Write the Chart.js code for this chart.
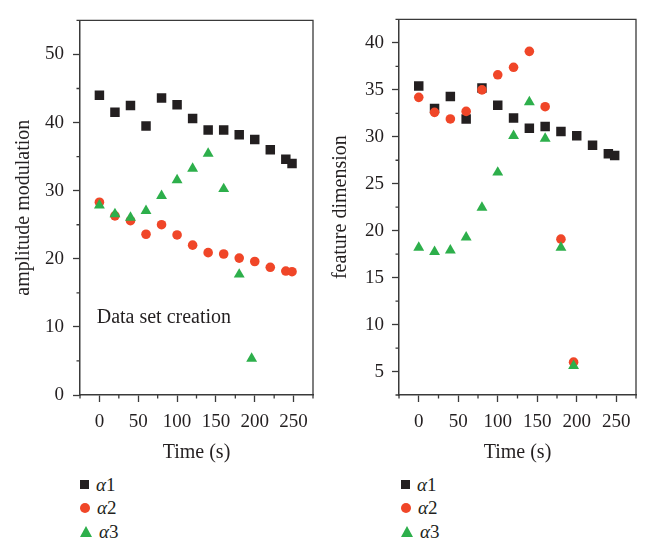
<!doctype html>
<html>
<head>
<meta charset="utf-8">
<title>Scatter</title>
<script src="https://cdn.jsdelivr.net/npm/chart.js@4"></script>
<style>
	body { margin: 0; background: #fff; color: #231f20; font-family: "Liberation Serif", "Times New Roman", serif; }
	.box { position: absolute; top: 0; height: 470px; }
	#leftBox { left: 0; width: 322px; }
	#rightBox { left: 322px; width: 323px; }
	.legend { position: absolute; top: 473px; font-size: 19px; }
	.legend div { display: flex; align-items: center; height: 23.5px; }
	.legend span.mk { display: inline-block; margin-right: 7px; }
	.mk.rect { width: 9px; height: 9px; }
	.mk.circle { width: 10px; height: 10px; border-radius: 50%; }
	.mk.triangle { width: 0; height: 0; border-left: 6px solid transparent; border-right: 6px solid transparent; border-bottom: 11px solid; background: none !important; }
</style>
</head>
<body>
	<div class="box" id="leftBox"><canvas id="leftChart"></canvas></div>
	<div class="box" id="rightBox"><canvas id="rightChart"></canvas></div>
	<div class="legend" id="leftLegend" style="left:80px"></div>
	<div class="legend" id="rightLegend" style="left:401px"></div>

<script>
	// ---- data ----
	var seriesNames = ["α1", "α2", "α3"];

	// left panel: amplitude modulation
	var timesA = [0, 20, 40, 60, 80, 100, 120, 140, 160, 180, 200, 220, 240, 248];
	var timesB = [0, 20, 40, 60, 80, 100, 120, 140, 160, 180, 196];
	var ampA1 = [44.0, 41.5, 42.5, 39.5, 43.6, 42.6, 40.6, 38.9, 38.9, 38.2, 37.5, 36.0, 34.6, 34.0];
	var ampA2 = [28.3, 26.3, 25.6, 23.6, 25.0, 23.5, 22.0, 20.9, 20.7, 20.1, 19.6, 18.75, 18.2, 18.1];
	var ampA3 = [27.85, 26.55, 26.05, 27.05, 29.25, 31.55, 33.25, 35.45, 30.25, 17.7, 5.35];

	// right panel: feature dimension
	var featA1 = [35.4, 33.0, 34.3, 31.9, 35.2, 33.35, 32.0, 30.9, 31.1, 30.55, 30.1, 29.1, 28.2, 28.0];
	var featA2 = [34.2, 32.6, 31.9, 32.7, 35.0, 36.6, 37.4, 39.1, 33.2, 19.1, 6.0];
	var featA3 = [18.2, 17.75, 17.9, 19.3, 22.45, 26.2, 30.1, 33.7, 29.8, 18.2, 5.6];

	var xTicks = { min: -25, max: 275, step: 25, major: 50 };
	var leftTicks = { min: 0, max: 55, step: 5, major: 10 };
	var rightTicks = { min: 2.5, max: 42.5, step: 2.5, major: 5 };

	var noteText = "Data set creation";
	var notePos = { x: -3.5, y: 10.55 };

	// ---- styling ----
	var FONT = '"Liberation Serif", "Times New Roman", serif';
	var INK = "#231f20";
	var AXIS = "#3a3a3a";
	var colors = ["#231f20", "#f04628", "#2daf4b"];
	var styles = ["rect", "circle", "triangle"];
	var radii = [6.7, 4.8, 6.3];

	function pts(xs, ys) {
		return xs.map(function (x, i) { return { x: x, y: ys[i] }; });
	}

	function makeDatasets(list) {
		return list.map(function (d, i) {
			return {
				label: seriesNames[i],
				data: pts(d[0], d[1]),
				pointStyle: styles[i],
				pointRadius: radii[i],
				pointHoverRadius: radii[i],
				backgroundColor: colors[i],
				borderColor: colors[i],
				borderWidth: 0,
				order: 3 - i
			};
		});
	}

	function isMajor(v, major) {
		return Math.abs(v / major - Math.round(v / major)) < 1e-6;
	}

	function axis(t, title, isX, fitSize, titlePad) {
		return {
			type: "linear",
			min: t.min,
			max: t.max,
			ticks: {
				stepSize: t.step,
				autoSkip: false,
				maxRotation: 0,
				padding: isX ? 9 : (titlePad > 10 ? 9 : 8),
				color: INK,
				font: { family: FONT, size: 19 },
				callback: function (v) { return isMajor(v, t.major) ? v : ""; }
			},
			grid: {
				drawOnChartArea: false,
				tickLength: 7,
				tickWidth: 1.3,
				tickColor: function (c) { return c.tick && isMajor(c.tick.value, t.major) ? AXIS : "rgba(0,0,0,0)"; }
			},
			border: { color: AXIS, width: 1.5 },
			title: {
				display: true,
				text: title,
				color: INK,
				font: { family: FONT, size: 20 },
				padding: isX ? { top: 0, bottom: 2 } : { top: titlePad, bottom: 0 }
			},
			afterFit: function (s) {
				if (isX) s.height = fitSize; else s.width = fitSize;
			}
		};
	}

	// frame on top/right plus short minor ticks
	var framePlugin = {
		id: "frame",
		afterDraw: function (chart, args, opts) {
			var a = chart.chartArea, ctx = chart.ctx;
			var sx = chart.scales.x, sy = chart.scales.y;
			ctx.save();
			ctx.strokeStyle = AXIS;
			ctx.lineWidth = 1.3;
			ctx.beginPath();
			ctx.moveTo(a.left, a.top);
			ctx.lineTo(a.right, a.top);
			ctx.lineTo(a.right, a.bottom);
			ctx.stroke();
			ctx.beginPath();
			sx.ticks.forEach(function (t) {
				if (!isMajor(t.value, opts.xMajor)) {
					var p = sx.getPixelForValue(t.value);
					ctx.moveTo(p, a.bottom);
					ctx.lineTo(p, a.bottom + 3.5);
				}
			});
			sy.ticks.forEach(function (t) {
				if (!isMajor(t.value, opts.yMajor)) {
					var p = sy.getPixelForValue(t.value);
					ctx.moveTo(a.left, p);
					ctx.lineTo(a.left - 3.5, p);
				}
			});
			ctx.stroke();
			if (opts.note) {
				ctx.fillStyle = INK;
				ctx.font = "20px " + FONT;
				ctx.textAlign = "left";
				ctx.textBaseline = "alphabetic";
				ctx.fillText(opts.note.text, sx.getPixelForValue(opts.note.x), sy.getPixelForValue(opts.note.y));
			}
			ctx.restore();
		}
	};

	function makeChart(id, datasets, yt, yTitle, yWidth, titlePad, padRight, note) {
		return new Chart(document.getElementById(id).getContext("2d"), {
			type: "scatter",
			data: { datasets: datasets },
			options: {
				responsive: true,
				maintainAspectRatio: false,
				animation: false,
				events: [],
				layout: { padding: { top: 7, right: padRight, bottom: 3, left: 0 } },
				scales: {
					x: axis(xTicks, "Time (s)", true, 72, 0),
					y: axis(yt, yTitle, false, yWidth, titlePad)
				},
				plugins: {
					legend: { display: false },
					tooltip: { enabled: false },
					frame: { xMajor: xTicks.major, yMajor: yt.major, note: note }
				}
			},
			plugins: [framePlugin]
		});
	}

	function buildLegend(el, chart) {
		chart.data.datasets.forEach(function (ds) {
			var row = document.createElement("div");
			var mk = document.createElement("span");
			mk.className = "mk " + ds.pointStyle;
			mk.style.background = ds.backgroundColor;
			mk.style.borderBottomColor = ds.backgroundColor;
			var txt = document.createElement("span");
			txt.innerHTML = "<i>" + ds.label.charAt(0) + "</i>" + ds.label.slice(1);
			row.appendChild(mk);
			row.appendChild(txt);
			el.appendChild(row);
		});
	}

	var leftChart = makeChart("leftChart",
		makeDatasets([[timesA, ampA1], [timesA, ampA2], [timesB, ampA3]]),
		leftTicks, "amplitude modulation", 80, 12, 6,
		{ text: noteText, x: notePos.x, y: notePos.y });

	var rightChart = makeChart("rightChart",
		makeDatasets([[timesA, featA1], [timesB, featA2], [timesB, featA3]]),
		rightTicks, "feature dimension", 77, 7, 9, null);

	buildLegend(document.getElementById("leftLegend"), leftChart);
	buildLegend(document.getElementById("rightLegend"), rightChart);
</script>
</body>
</html>
